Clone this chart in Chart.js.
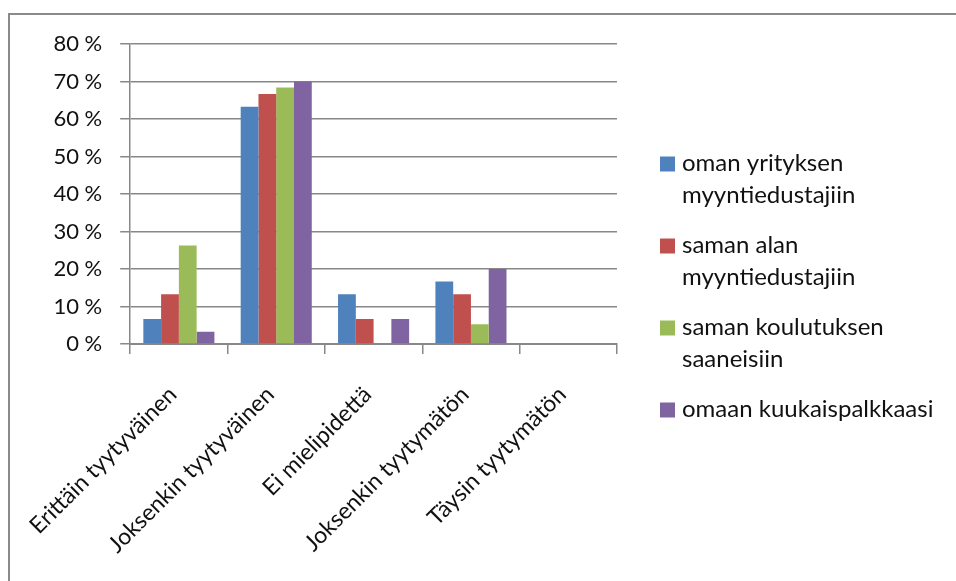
<!DOCTYPE html>
<html>
<head>
<meta charset="utf-8">
<script src="https://cdn.jsdelivr.net/npm/chart.js@4/dist/chart.umd.min.js"></script>
<style>
    body { margin: 0; background: #fff; }
    #wrap { position: relative; width: 956px; height: 581px; }
    #frame {
        position: absolute; left: 8px; top: 13px; right: 0; bottom: 0;
        border-top: 2px solid #8a8a8a; border-left: 2px solid #8a8a8a;
        pointer-events: none;
    }
</style>
</head>
<body>
<div id="wrap">
    <canvas id="myChart" width="956" height="581"></canvas>
    <div id="frame"></div>
</div>
<script>
const categories = ['Erittäin tyytyväinen', 'Joksenkin tyytyväinen', 'Ei mielipidettä', 'Joksenkin tyytymätön', 'Täysin tyytymätön'];

// percentages per answer option
const omaYritys = [6.7, 63.3, 13.3, 16.7, 0];
const samaAla = [13.3, 66.7, 6.7, 13.3, 0];
const samaKoulutus = [26.3, 68.4, 0, 5.3, 0];
const kuukausipalkka = [3.3, 70, 6.7, 20, 0];

const seriesNames = [
    ['oman yrityksen', 'myyntiedustajiin'],
    ['saman alan', 'myyntiedustajiin'],
    ['saman koulutuksen', 'saaneisiin'],
    ['omaan kuukaispalkkaasi']
];
const seriesColors = ['#4F81BD', '#C0504D', '#9BBB59', '#8064A2'];
const yTicks = [0, 10, 20, 30, 40, 50, 60, 70, 80];

const fontFamily = 'Lato, "Open Sans", sans-serif';
const gridColor = '#888888';

// legend drawn by hand so the long names can wrap on two lines
const sideLegend = {
    id: 'sideLegend',
    afterDraw(chart) {
        const c = chart.ctx;
        const lineH = 32;
        const gap = 18;
        let total = 0;
        seriesNames.forEach((lines, i) => {
            total += lines.length * lineH + (i < seriesNames.length - 1 ? gap : 0);
        });
        let y = chart.height / 2 - total / 2 - 4;
        const x = chart.chartArea.right + 43;
        c.save();
        c.font = '24px ' + fontFamily;
        c.textBaseline = 'middle';
        seriesNames.forEach((lines, i) => {
            c.fillStyle = seriesColors[i];
            c.fillRect(x, y + lineH / 2 - 7, 15, 15);
            c.fillStyle = '#111';
            lines.forEach((t, j) => {
                c.fillText(t, x + 22, y + lineH / 2 + j * lineH);
            });
            y += lines.length * lineH + gap;
        });
        c.restore();
    }
};

const ctx = document.getElementById('myChart').getContext('2d');
const myChart = new Chart(ctx, {
    type: 'bar',
    data: {
        labels: categories,
        datasets: [omaYritys, samaAla, samaKoulutus, kuukausipalkka].map((d, i) => ({
            label: seriesNames[i].join(' '),
            data: d,
            backgroundColor: seriesColors[i],
            borderWidth: 0,
            categoryPercentage: 0.73,
            barPercentage: 1.0
        }))
    },
    options: {
        responsive: false,
        animation: false,
        layout: { padding: { top: 44, right: 339, bottom: 0, left: 0 } },
        plugins: {
            legend: { display: false },
            tooltip: { enabled: false }
        },
        scales: {
            x: {
                grid: { drawOnChartArea: false, tickLength: 10, color: gridColor, lineWidth: 1.5 },
                border: { color: gridColor, width: 2 },
                ticks: {
                    color: '#111',
                    font: { family: fontFamily, size: 23 },
                    maxRotation: 45,
                    minRotation: 45,
                    padding: 27,
                    labelOffset: -6
                },
                afterFit(scale) { scale.height = 237; }
            },
            y: {
                min: 0,
                max: 80,
                afterBuildTicks(scale) { scale.ticks = yTicks.map(v => ({ value: v })); },
                grid: { color: gridColor, lineWidth: 1.5, tickLength: 10 },
                border: { color: gridColor, width: 1.5 },
                ticks: {
                    color: '#111',
                    font: { family: fontFamily, size: 22 },
                    padding: 18,
                    callback: v => v + ' %'
                },
                afterFit(scale) { scale.width = 128; }
            }
        }
    },
    plugins: [sideLegend]
});
</script>
</body>
</html>
